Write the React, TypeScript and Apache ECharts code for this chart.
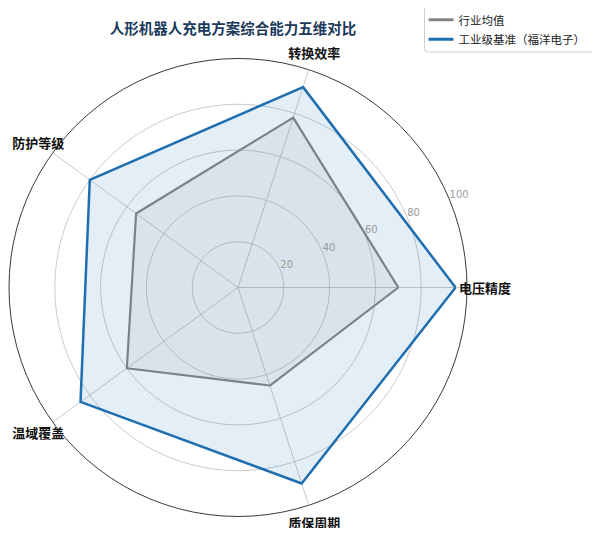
import React, { useEffect, useRef } from "react";
import * as echarts from "echarts";

const dimensions = ["电压精度", "转换效率", "防护等级", "温域覆盖", "质保周期"];
const industryAvg = [70, 78, 55, 60, 45];
const fuyangBench = [95, 92, 80, 85, 90];
const seriesNames = ["行业均值", "工业级基准（福洋电子）"];
const radiusTicks = [0, 20, 40, 60, 80, 100];

const FONT = "'Noto Sans CJK SC', 'Noto Sans', sans-serif";

function App() {
  const chartRef = useRef<HTMLDivElement>(null);

  useEffect(() => {
    if (!chartRef.current) return;
    const chart = echarts.init(chartRef.current, undefined, { renderer: "svg" });
    const center = [238, 287.5];
    const radius = 229;
    const options: echarts.EChartsOption = {
      animation: false,
      backgroundColor: "#ffffff",
      textStyle: { fontFamily: FONT },
      title: {
        text: "人形机器人充电方案综合能力五维对比",
        left: 228,
        textAlign: "center",
        top: 15,
        textStyle: {
          fontFamily: FONT,
          fontSize: 14.5,
          fontWeight: "bold",
          color: "#1b3a5c",
        },
      },
      legend: {
        orient: "vertical",
        right: 3,
        top: 7,
        padding: [7, 12, 7, 4],
        itemGap: 8,
        itemWidth: 25,
        itemHeight: 3,
        icon: "rect",
        borderColor: "#d0d0d0",
        borderWidth: 1,
        borderRadius: 3,
        backgroundColor: "#ffffff",
        data: seriesNames,
        textStyle: { fontFamily: FONT, fontSize: 11.5, color: "#222" },
      },
      radar: {
        center,
        radius,
        shape: "circle",
        startAngle: 0,
        splitNumber: 5,
        nameGap: 18,
        indicator: dimensions.map((name) => ({ name, min: 0, max: radiusTicks[radiusTicks.length - 1] })),
        axisName: {
          color: "#111",
          fontFamily: FONT,
          fontSize: 13,
          fontWeight: "bold",
          align: "center",
          verticalAlign: "middle",
        } as any,
        axisLine: { lineStyle: { color: "#bdbdbd", width: 0.8 } },
        splitLine: {
          lineStyle: {
            color: ["#c4c4c4", "#c4c4c4", "#c4c4c4", "#c4c4c4", "#c4c4c4", "#222222"],
            width: 0.9,
          },
        },
        splitArea: { show: false },
      },
      polar: { center, radius },
      angleAxis: {
        type: "value",
        min: 0,
        max: 360,
        startAngle: 22.5,
        show: false,
      },
      radiusAxis: {
        type: "value",
        z: 10,
        min: radiusTicks[0],
        max: radiusTicks[radiusTicks.length - 1],
        interval: 20,
        axisLine: { show: false },
        axisTick: { show: false },
        splitLine: { show: false },
        axisLabel: {
          margin: 0,
          align: "left",
          verticalAlign: "bottom",
          color: "#9a9a9a",
          fontSize: 10,
          fontFamily: "'DejaVu Sans', sans-serif",
          showMinLabel: false,
        },
      },
      series: [
        {
          type: "radar",
          symbol: "none",
          data: [
            {
              name: seriesNames[0],
              value: industryAvg,
              itemStyle: { color: "#858585" },
              lineStyle: { color: "#858585", width: 2.2 },
              areaStyle: { color: "rgba(128,128,128,0.14)" },
            },
            {
              name: seriesNames[1],
              value: fuyangBench,
              itemStyle: { color: "#1f6eb0" },
              lineStyle: { color: "#1f6eb0", width: 2.5 },
              areaStyle: { color: "rgba(31,119,180,0.18)" },
            },
          ],
        },
      ],
    };
    chart.setOption(options);
    return () => {
      chart.dispose();
    };
  }, []);

  return <div ref={chartRef} style={{ width: "600px", height: "536px", margin: "-8px" }} />;
}

export default App;
